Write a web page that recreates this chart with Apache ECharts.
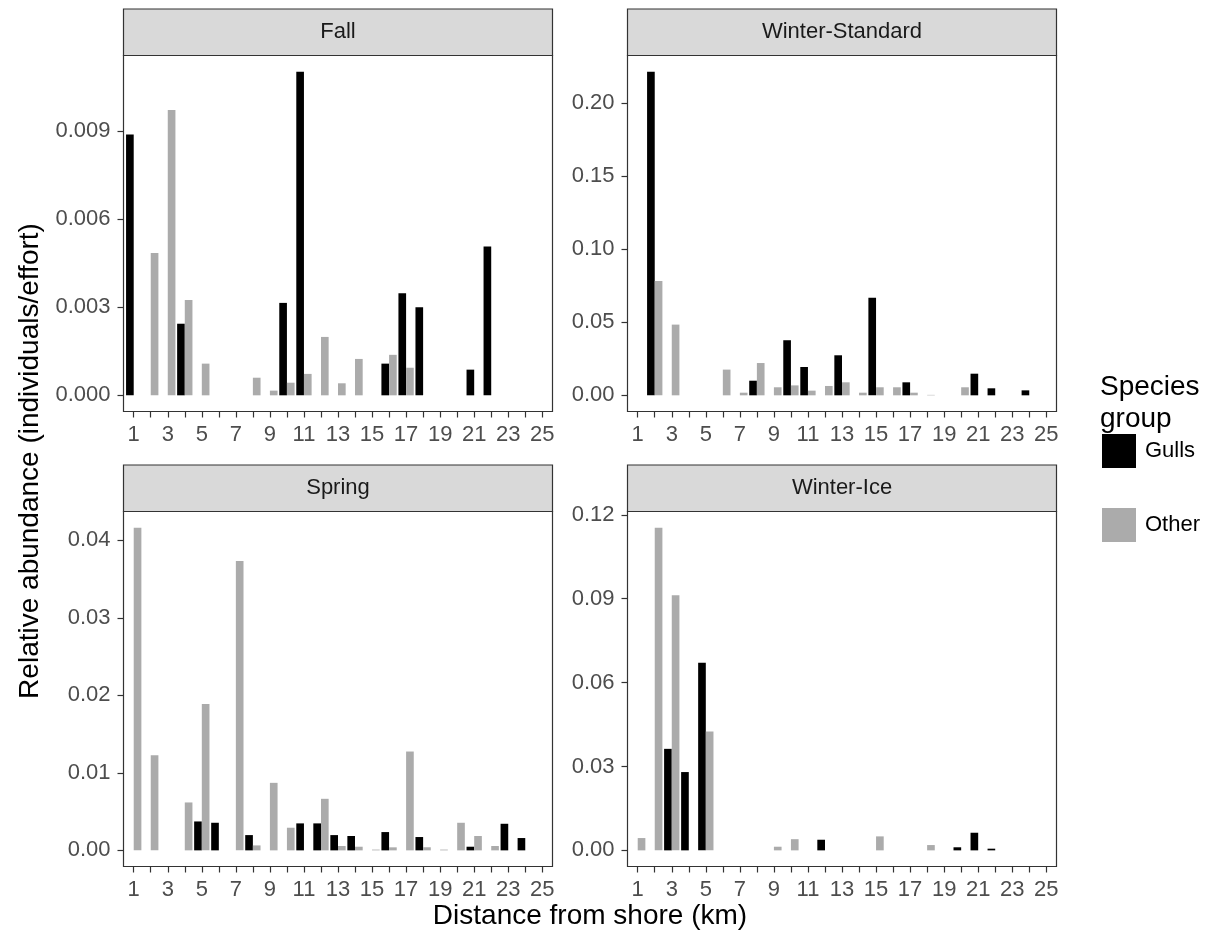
<!DOCTYPE html>
<html><head><meta charset="utf-8">
<script src="https://cdn.jsdelivr.net/npm/echarts@6/dist/echarts.min.js"></script>
<style>html,body{margin:0;padding:0;background:#fff}#c{width:1225px;height:938px}</style>
</head><body><div id="c"></div>
<script>
// ---- data ----
const distances = [1,2,3,4,5,6,7,8,9,10,11,12,13,14,15,16,17,18,19,20,21,22,23,24,25];
const xTickLabels = [1,3,5,7,9,11,13,15,17,19,21,23,25];
const panelNames = ['Fall','Winter-Standard','Spring','Winter-Ice'];
const groupNames = ['Gulls','Other'];

const fallGulls  = [0.00889,0,0,0.00244,0,0,0,0,0,0.00315,0.01103,0,0,0,0,0.00108,0.00348,0.0030,0,0,0.000875,0.00507,0,0,0];
const fallOther  = [0,0.00485,0.00972,0.00325,0.00108,0,0,0.0006,0.00016,0.00043,0.00073,0.00199,0.00041,0.00124,0,0.00138,0.00094,0,0,0,0,0,0,0,0];
const wsGulls    = [0,0.2215,0,0,0,0,0,0.0100,0,0.0377,0.0194,0,0.0274,0,0.0667,0,0.0089,0,0,0,0.0148,0.0048,0,0.0034,0];
const wsOther    = [0,0.0783,0.0484,0,0,0.0176,0.0018,0.0221,0.0055,0.0068,0.0032,0.0064,0.0089,0.0018,0.0055,0.0055,0.0018,0.0003,0,0.0055,0,0,0,0,0];
const springGulls= [0,0,0,0,0.00373,0.00356,0,0.00197,0,0,0.00348,0.00348,0.00197,0.00185,0,0.00236,0,0.00172,0,0,0.00047,0,0.00343,0.00159,0];
const springOther= [0.04163,0.01227,0,0.00618,0.01888,0,0.03734,0.00064,0.00871,0.00292,0,0.00665,0.00056,0.00047,0.0001,0.00039,0.01275,0.0004,0.0001,0.00356,0.00185,0.00056,0,0,0];
const wiGulls    = [0,0,0.0363,0.0280,0.0671,0,0,0,0,0,0,0.0038,0,0,0,0,0,0,0,0.0011,0.0063,0.0006,0,0,0];
const wiOther    = [0.0044,0.1154,0.0912,0,0.0425,0,0,0,0.0013,0.0040,0,0,0,0,0.0050,0,0,0.0019,0,0,0,0,0,0,0];

const fallTicks   = [0,0.003,0.006,0.009];
const wsTicks     = [0,0.05,0.10,0.15,0.20];
const springTicks = [0,0.01,0.02,0.03,0.04];
const wiTicks     = [0,0.03,0.06,0.09,0.12];
const tickDecimals = [3,2,2,2];

// ---- build ----
const panelData = [[fallGulls,fallOther],[wsGulls,wsOther],[springGulls,springOther],[wiGulls,wiOther]];
const panelTicks = [fallTicks,wsTicks,springTicks,wiTicks];
const groupColors = ['#000000','#ABABAB'];
const FONT = '"Liberation Sans", Arial, Helvetica, sans-serif';

const gridPos = [
  {left:123.5, top:55.5,  width:429, height:356},
  {left:627.5, top:55.5,  width:429, height:356},
  {left:123.5, top:511.5, width:429, height:355},
  {left:627.5, top:511.5, width:429, height:355}
];
const stripH = 46.5;

const grids = [], xAxes = [], yAxes = [], series = [], graphics = [];

function makeRender(leftOffset){
  return function(params, api){
    const x = api.value(0), y = api.value(1);
    const x0 = x + leftOffset;
    const p0 = api.coord([x0, y]);
    const p1 = api.coord([x0 + 0.45, 0]);
    return {type:'rect', shape:{x:p0[0], y:p0[1], width:p1[0]-p0[0], height:p1[1]-p0[1]},
            style:{fill: api.visual('color')}};
  };
}

panelNames.forEach((pn, i) => {
  const g = gridPos[i];
  grids.push(Object.assign({show:true, borderColor:'#333333', borderWidth:1.2, backgroundColor:'#fff', containLabel:false}, g));
  xAxes.push({
    type:'value', gridIndex:i, min:0.4, max:25.6, position:'bottom',
    axisLine:{show:false, onZero:false}, splitLine:{show:false},
    axisTick:{show:true, inside:false, length:6, lineStyle:{color:'#333333', width:1.2}, customValues: distances},
    axisLabel:{show:true, customValues: xTickLabels, margin:12, fontSize:22, color:'#4D4D4D', fontFamily:FONT,
               formatter: v => String(v)}
  });
  const allVals = panelData[i][0].concat(panelData[i][1]);
  const mx = Math.max.apply(null, allVals);
  const dec = tickDecimals[i];
  yAxes.push({
    type:'value', gridIndex:i, min:-0.05*mx, max:1.05*mx, position:'left',
    axisLine:{show:false, onZero:false}, splitLine:{show:false},
    axisTick:{show:true, inside:false, length:6, lineStyle:{color:'#333333', width:1.2}, customValues: panelTicks[i]},
    axisLabel:{show:true, customValues: panelTicks[i], margin:13, fontSize:22, color:'#4D4D4D', fontFamily:FONT,
               formatter: v => Number(v).toFixed(dec)}
  });
  groupNames.forEach((gn, k) => {
    series.push({
      type:'custom', name:gn, xAxisIndex:i, yAxisIndex:i,
      itemStyle:{color: groupColors[k]},
      renderItem: makeRender(k === 0 ? -0.45 : 0),
      encode:{x:0, y:1},
      data: distances.map((d, j) => [d, panelData[i][k][j]]),
      silent:true, animation:false
    });
  });
  // facet strip
  graphics.push({type:'rect', shape:{x:g.left, y:g.top - stripH, width:g.width, height:stripH},
                 style:{fill:'#D9D9D9', stroke:'#333333', lineWidth:1.2}, silent:true});
  graphics.push({type:'text', x:g.left + g.width/2, y:g.top - stripH/2,
                 style:{text:pn, fontSize:22, fill:'#1A1A1A', fontFamily:FONT, align:'center', verticalAlign:'middle'}});
});

// axis titles
graphics.push({type:'text', x:30, y:461, rotation:Math.PI/2,
  style:{text:'Relative abundance (individuals/effort)', fontSize:28, fill:'#000', fontFamily:FONT, align:'center', verticalAlign:'middle'}});
graphics.push({type:'text', x:590, y:916,
  style:{text:'Distance from shore (km)', fontSize:28, fill:'#000', fontFamily:FONT, align:'center', verticalAlign:'middle'}});
// legend title
graphics.push({type:'text', x:1100, y:371,
  style:{text:'Species\ngroup', fontSize:28, lineHeight:32, fill:'#000', fontFamily:FONT, align:'left', verticalAlign:'top'}});

const chart = echarts.init(document.getElementById('c'), null, {renderer:'canvas'});
chart.setOption({
  backgroundColor:'#ffffff',
  animation:false,
  grid: grids, xAxis: xAxes, yAxis: yAxes, series: series,
  legend:{
    show:true, orient:'vertical', left:1102, top:434, padding:0,
    itemWidth:34, itemHeight:34, itemGap:40, selectedMode:false,
    textStyle:{fontSize:22, color:'#000', fontFamily:FONT, padding:[0,0,0,4]},
    data:[{name:'Gulls', icon:'rect', itemStyle:{color:groupColors[0]}},
          {name:'Other', icon:'rect', itemStyle:{color:groupColors[1]}}]
  },
  graphic: graphics
});
</script>
</body></html>
